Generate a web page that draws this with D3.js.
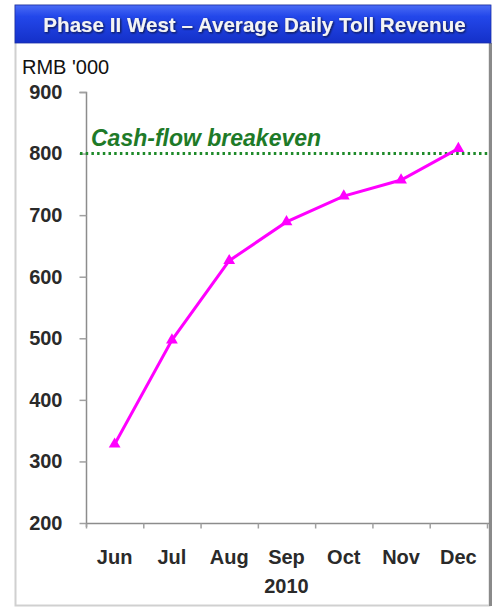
<!DOCTYPE html>
<html>
<head>
<meta charset="utf-8">
<script src="https://cdn.jsdelivr.net/npm/d3@7"></script>
<style>
  html, body { margin: 0; padding: 0; background: #fff; }
  svg { display: block; font-family: "Liberation Sans", Arial, sans-serif; }
</style>
</head>
<body>
<svg id="chart" width="495" height="607"></svg>
<script>
const title = "Phase II West \u2013 Average Daily Toll Revenue";
const unitLabel = "RMB '000";
const months = ["Jun", "Jul", "Aug", "Sep", "Oct", "Nov", "Dec"];
const revenue = [328, 497, 626, 689, 731, 757, 808];
const yTicks = [200, 300, 400, 500, 600, 700, 800, 900];
const yearLabel = "2010";
const breakevenValue = 800;
const breakevenLabel = "Cash-flow breakeven";

const svg = d3.select("#chart");

// gradient for title bar
const defs = svg.append("defs");
const grad = defs.append("linearGradient").attr("id", "tb").attr("x1", 0).attr("y1", 0).attr("x2", 0).attr("y2", 1);
grad.append("stop").attr("offset", "0%").attr("stop-color", "#4a6cf5");
grad.append("stop").attr("offset", "30%").attr("stop-color", "#2347ea");
grad.append("stop").attr("offset", "100%").attr("stop-color", "#1430c8");
const sh = defs.append("filter").attr("id", "ts").attr("x", "-5%").attr("y", "-20%").attr("width", "110%").attr("height", "140%");
sh.append("feDropShadow").attr("dx", 1).attr("dy", 1).attr("stdDeviation", 0.8).attr("flood-color", "#111").attr("flood-opacity", 0.8);

// frame
svg.append("rect").attr("x", 15.5).attr("y", 5.5).attr("width", 474).attr("height", 600)
  .attr("fill", "#fff").attr("stroke", "#d0d0d0").attr("stroke-width", 2);
svg.append("line").attr("x1", 490.5).attr("x2", 490.5).attr("y1", 43).attr("y2", 606)
  .attr("stroke", "#8a8a8a").attr("stroke-width", 3);
svg.append("rect").attr("x", 15).attr("y", 5).attr("width", 476).attr("height", 38)
  .attr("fill", "url(#tb)").attr("stroke", "#1a2fa8").attr("stroke-width", 0.8);
svg.append("text").attr("x", 254.5).attr("y", 32).attr("text-anchor", "middle")
  .attr("font-size", 20.6).attr("font-weight", "bold").attr("fill", "#f4f4f4")
  .attr("filter", "url(#ts)").text(title);

// scales
const x = d3.scaleBand().domain(months).range([86, 487]).padding(0);
const y = d3.scaleLinear().domain([200, 900]).range([523, 92]);

// y axis
const yAxis = svg.append("g").attr("transform", "translate(86.5,0)")
  .call(d3.axisLeft(y).tickValues(yTicks).tickSize(7).tickPadding(17).tickFormat(d3.format("d")));
yAxis.select(".domain").attr("stroke", "#8c8c8c").attr("stroke-width", 1.5).attr("d", "M-7,92.5H0V527");
yAxis.selectAll(".tick line").attr("stroke", "#a0a0a0").attr("stroke-width", 1.5);
yAxis.selectAll(".tick text").attr("font-size", 20).attr("font-weight", "bold").attr("fill", "#2a2a2a")
  .attr("font-family", "Liberation Sans, Arial, sans-serif");

// x axis
const xAxis = svg.append("g").attr("transform", "translate(0,523.5)")
  .call(d3.axisBottom(x).tickSize(0).tickPadding(26));
xAxis.select(".domain").attr("stroke", "#8c8c8c").attr("stroke-width", 1.5).attr("d", "M86,0H489");
xAxis.selectAll(".tick text").attr("font-size", 20).attr("font-weight", "bold").attr("fill", "#2a2a2a")
  .attr("font-family", "Liberation Sans, Arial, sans-serif");
// boundary ticks between categories
const bounds = months.map(m => x(m)).concat([x.range()[1]]);
xAxis.selectAll(".bt").data(bounds).enter().append("line").attr("class", "bt")
  .attr("x1", d => d + 0.5).attr("x2", d => d + 0.5).attr("y1", 0).attr("y2", 5)
  .attr("stroke", "#a0a0a0").attr("stroke-width", 1.5);

svg.append("text").attr("x", x("Sep") + x.bandwidth() / 2).attr("y", 593).attr("text-anchor", "middle")
  .attr("font-size", 20).attr("font-weight", "bold").attr("fill", "#2a2a2a").text(yearLabel);

svg.append("text").attr("x", 22).attr("y", 74).attr("font-size", 20).attr("fill", "#111").text(unitLabel);

// breakeven line
svg.append("line").attr("x1", 80).attr("x2", 488).attr("y1", y(breakevenValue)).attr("y2", y(breakevenValue))
  .attr("stroke", "#1e8a2a").attr("stroke-width", 3).attr("stroke-dasharray", "2.5,3.2");
svg.append("text").attr("x", 91).attr("y", 146).attr("font-size", 23).attr("font-weight", "bold")
  .attr("font-style", "italic").attr("fill", "#1e7a28").text(breakevenLabel);

// line series
const cx = m => x(m) + x.bandwidth() / 2;
svg.append("path").datum(revenue)
  .attr("d", d3.line().x((d, i) => cx(months[i])).y(d => y(d)))
  .attr("fill", "none").attr("stroke", "#ff00ff").attr("stroke-width", 3);
svg.selectAll(".mk").data(revenue).enter().append("path").attr("class", "mk")
  .attr("transform", (d, i) => `translate(${cx(months[i])},${y(d)})`)
  .attr("d", d3.symbol().type(d3.symbolTriangle).size(60))
  .attr("fill", "#ff00ff");
</script>
</body>
</html>
